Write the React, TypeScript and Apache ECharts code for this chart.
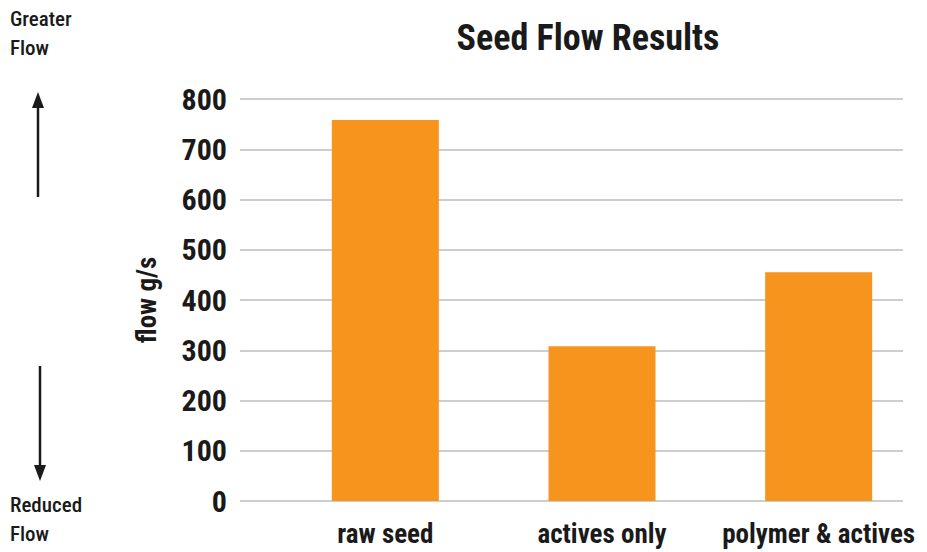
import React, { useEffect, useRef } from "react";
import * as echarts from "echarts";

const categories = ["raw seed", "actives only", "polymer & actives"];
const flowValues = [758, 308, 455];
const yTicks = [0, 100, 200, 300, 400, 500, 600, 700, 800];

const FONT = "'Liberation Sans Narrow', 'Arial Narrow', 'Roboto Condensed', 'Liberation Sans', sans-serif";

export default function App() {
  const ref = useRef<HTMLDivElement>(null);
  useEffect(() => {
    if (!ref.current) return;
    const chart = echarts.init(ref.current, null, { renderer: "svg" });
    chart.setOption({
      animation: false,
      backgroundColor: "#ffffff",
      title: {
        text: "Seed Flow Results",
        left: 583,
        top: 15,
        textAlign: "center",
        textStyle: { fontFamily: FONT, fontSize: 36, fontWeight: "bold", color: "#1a1a1a" },
      },
      grid: [
        { left: 240, right: 24, top: 99, bottom: 51, containLabel: false },
        { left: 277, right: 0, top: 99, bottom: 51, containLabel: false },
      ],
      xAxis: [
        { type: "category", gridIndex: 0, data: categories, show: false },
        {
          type: "category",
          gridIndex: 1,
          data: categories,
          axisLine: { show: false },
          axisTick: { show: false },
          axisLabel: {
            interval: 0,
            margin: 19,
            fontFamily: FONT,
            fontSize: 27,
            fontWeight: "bold",
            color: "#1a1a1a",
          },
        },
      ],
      yAxis: [
        {
          type: "value",
          gridIndex: 0,
          min: 0,
          max: 800,
          interval: 100,
          name: "flow g/s",
          nameLocation: "middle",
          nameGap: 80,
          nameTextStyle: { fontFamily: FONT, fontSize: 27, fontWeight: "bold", color: "#1a1a1a" },
          axisLine: { show: false },
          axisTick: { show: false },
          splitLine: { show: true, lineStyle: { color: "#bdbdbd", width: 1.5 } },
          axisLabel: {
            margin: 13,
            fontFamily: FONT,
            fontSize: 30,
            fontWeight: "bold",
            color: "#1a1a1a",
            formatter: (v: number) => (yTicks.includes(v) ? String(v) : ""),
          },
        },
        {
          type: "value",
          gridIndex: 1,
          min: 0,
          max: 800,
          interval: 100,
          show: false,
          splitLine: { show: false },
        },
      ],
      series: [
        {
          type: "bar",
          xAxisIndex: 1,
          yAxisIndex: 1,
          data: flowValues,
          barWidth: 107,
          itemStyle: { color: "#F7941D" },
        },
      ],
      graphic: [
        {
          type: "text",
          left: 10,
          top: 4,
          style: { text: "Greater\nFlow", fontFamily: FONT, fontSize: 21, fontWeight: 500, lineHeight: 29, fill: "#1a1a1a" },
        },
        {
          type: "text",
          left: 10,
          top: 490,
          style: { text: "Reduced\nFlow", fontFamily: FONT, fontSize: 21, fontWeight: 500, lineHeight: 29, fill: "#1a1a1a" },
        },
        { type: "line", shape: { x1: 38, y1: 105, x2: 38, y2: 197 }, style: { stroke: "#1a1a1a", lineWidth: 2.5 } },
        { type: "polygon", shape: { points: [[38, 92], [32, 108], [44, 108]] }, style: { fill: "#1a1a1a" } },
        { type: "line", shape: { x1: 40, y1: 366, x2: 40, y2: 468 }, style: { stroke: "#1a1a1a", lineWidth: 2.5 } },
        { type: "polygon", shape: { points: [[40, 481], [34, 465], [46, 465]] }, style: { fill: "#1a1a1a" } },
      ],
    });
    return () => chart.dispose();
  }, []);
  return (
    <div
      ref={ref}
      style={{ position: "absolute", left: 0, top: 0, width: 927, height: 552, overflow: "hidden" }}
    />
  );
}
